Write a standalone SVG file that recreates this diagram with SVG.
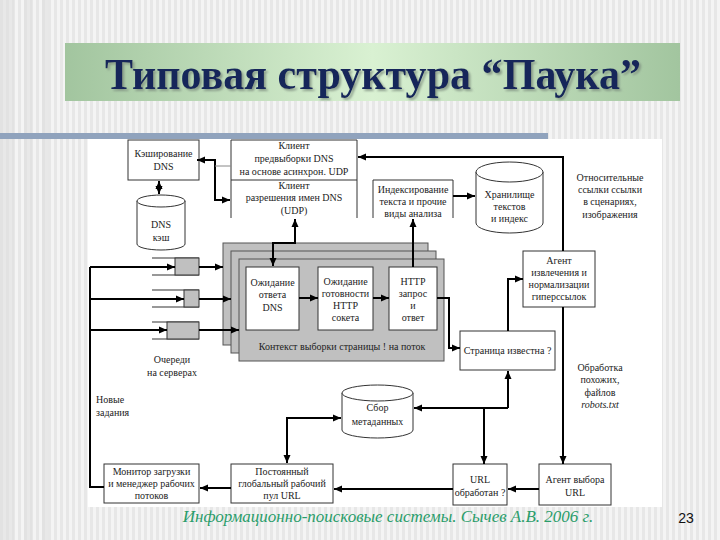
<svg xmlns="http://www.w3.org/2000/svg" width="720" height="540" viewBox="0 0 720 540">
<defs>
<pattern id="stripes" x="0" y="0" width="6" height="10" patternUnits="userSpaceOnUse">
<rect width="6" height="10" fill="#f4f4f4"/>
<rect width="3" height="10" fill="#e7e7e7"/>
</pattern>
<linearGradient id="banner" x1="0" y1="0" x2="1" y2="0">
<stop offset="0" stop-color="#a2c59f"/>
<stop offset="0.5" stop-color="#d9f1d2"/>
<stop offset="1" stop-color="#a2c59f"/>
</linearGradient>
<filter id="shadow" x="-5%" y="-20%" width="110%" height="140%">
<feDropShadow dx="2" dy="2" stdDeviation="0.8" flood-color="#7f8f80" flood-opacity="0.8"/>
</filter>
<marker id="ah" markerUnits="userSpaceOnUse" markerWidth="8" markerHeight="8" refX="8" refY="4" orient="auto-start-reverse">
<path d="M0,0.5 L8,4 L0,7.5 z" fill="#000"/>
</marker>
<style>
.t{font-family:'Liberation Serif','Times New Roman','DejaVu Serif',serif;font-size:10px;fill:#222;text-anchor:middle}
.box{fill:#fff;stroke:#333;stroke-width:1}
.ctx{fill:#c0c0c0;stroke:#555;stroke-width:1}
.q{fill:#c0c0c0;stroke:#333;stroke-width:1}
.ql{fill:none;stroke:#333;stroke-width:1.2}
.c{fill:none;stroke:#000;stroke-width:2}
.ca{fill:none;stroke:#000;stroke-width:2;marker-end:url(#ah)}
.cb{fill:none;stroke:#000;stroke-width:2;marker-end:url(#ah);marker-start:url(#ah)}
.serif{font-family:'Liberation Serif','Times New Roman','DejaVu Serif',serif}
</style>
</defs>
<rect width="720" height="540" fill="url(#stripes)"/>
<rect x="0" y="0" width="14" height="540" fill="#e0e0e0" opacity="0.6"/>
<rect x="24" y="0" width="8" height="540" fill="#e0e0e0" opacity="0.6"/>
<rect x="42" y="0" width="6" height="540" fill="#e0e0e0" opacity="0.6"/>

<g id="title">
<rect x="65" y="43" width="615" height="58" fill="url(#banner)"/>
<text class="serif" x="373" y="89" font-size="44" font-weight="bold" fill="#13285a" text-anchor="middle" textLength="536" lengthAdjust="spacingAndGlyphs" filter="url(#shadow)">Типовая структура “Паука”</text>
</g>
<rect x="0" y="133" width="548" height="6" fill="#90a3bd"/>
<rect x="88" y="139" width="574" height="368" fill="#fff"/>

<g id="dns-cache">
<rect class="box" x="128" y="140" width="71" height="40"/>
<text class="t" x="163.5" y="157">Кэширование</text>
<text class="t" x="163.5" y="170">DNS</text>
</g>
<g id="dns-db">
<path class="box" d="M137,201 V244 A24,6 0 0 0 185,244 V201"/>
<ellipse class="box" cx="161" cy="201" rx="24" ry="6"/>
<text class="t" x="161" y="228">DNS</text>
<text class="t" x="161" y="241">кэш</text>
</g>
<g id="dns-client">
<path d="M231,218 V140 H357 V218 M231,180 H357" fill="#fff" stroke="#333" stroke-width="1"/>
<text class="t" x="294" y="149">Клиент</text>
<text class="t" x="294" y="162">предвыборки DNS</text>
<text class="t" x="294" y="175">на основе асинхрон. UDP</text>
<text class="t" x="294" y="189">Клиент</text>
<text class="t" x="294" y="201">разрешения имен DNS</text>
<text class="t" x="294" y="214">(UDP)</text>
</g>
<g id="indexing">
<path d="M373,218 V180 H453 V218" fill="#fff" stroke="#333" stroke-width="1"/>
<text class="t" x="413" y="193">Индексирование</text>
<text class="t" x="413" y="205">текста и прочие</text>
<text class="t" x="413" y="217">виды анализа</text>
</g>
<g id="storage">
<path class="box" d="M476,172 V223 A33.5,10 0 0 0 543,223 V172"/>
<ellipse class="box" cx="509.5" cy="172" rx="33.5" ry="10"/>
<text class="t" x="509.5" y="198">Хранилище</text>
<text class="t" x="509.5" y="210">текстов</text>
<text class="t" x="509.5" y="222">и индекс</text>
</g>
<g id="note-links">
<text class="t" x="610" y="181">Относительные</text>
<text class="t" x="610" y="193">ссылки ссылки</text>
<text class="t" x="610" y="205">в сценариях,</text>
<text class="t" x="610" y="218">изображения</text>
</g>
<g id="queues">
<path class="ql" d="M152,258 H199 M152,275 H199"/>
<rect class="q" x="175" y="258" width="24" height="17"/>
<path class="ql" d="M152,290 H199 M152,307 H199"/>
<rect class="q" x="184" y="290" width="15" height="17"/>
<path class="ql" d="M152,322 H199 M152,339 H199"/>
<rect class="q" x="167" y="322" width="32" height="17"/>
<text class="t" x="172" y="363">Очереди</text>
<text class="t" x="172" y="376">на серверах</text>
</g>
<g id="new-tasks">
<text class="t" x="96" y="403" style="text-anchor:start">Новые</text>
<text class="t" x="96" y="416" style="text-anchor:start">задания</text>
</g>
<g id="fetch-context">
<rect class="ctx" x="223" y="243" width="205" height="102"/>
<rect class="ctx" x="231" y="251" width="205" height="102"/>
<rect class="ctx" x="239" y="259" width="205" height="102"/>
<text class="t" x="342" y="350">Контекст выборки страницы ! на поток</text>
</g>
<g id="wait-dns">
<rect class="box" x="246" y="267" width="53" height="63"/>
<text class="t" x="272.5" y="286">Ожидание</text>
<text class="t" x="272.5" y="298">ответа</text>
<text class="t" x="272.5" y="311">DNS</text>
</g>
<g id="wait-http">
<rect class="box" x="318" y="267" width="55" height="63"/>
<text class="t" x="345.5" y="285">Ожидание</text>
<text class="t" x="345.5" y="297">готовности</text>
<text class="t" x="345.5" y="309">HTTP</text>
<text class="t" x="345.5" y="321">сокета</text>
</g>
<g id="http">
<rect class="box" x="389" y="267" width="48" height="63"/>
<text class="t" x="413" y="285">HTTP</text>
<text class="t" x="413" y="297">запрос</text>
<text class="t" x="413" y="309">и</text>
<text class="t" x="413" y="321">ответ</text>
</g>
<g id="page-known">
<rect class="box" x="460" y="331" width="95" height="39"/>
<text class="t" x="507.5" y="354">Страница известна ?</text>
</g>
<g id="link-agent">
<rect class="box" x="523" y="251" width="72" height="56"/>
<text class="t" x="559" y="264">Агент</text>
<text class="t" x="559" y="276">извлечения и</text>
<text class="t" x="559" y="288">нормализации</text>
<text class="t" x="559" y="300">гиперссылок</text>
</g>
<g id="note-robots">
<text class="t" x="600" y="371">Обработка</text>
<text class="t" x="600" y="383">похожих,</text>
<text class="t" x="600" y="396">файлов</text>
<text class="t" x="600" y="408" font-style="italic">robots.txt</text>
</g>
<g id="metadata">
<path class="box" d="M342,393 V430 A35.5,8 0 0 0 413,430 V393"/>
<ellipse class="box" cx="377.5" cy="393" rx="35.5" ry="8"/>
<text class="t" x="377.5" y="411">Сбор</text>
<text class="t" x="377.5" y="425">метаданных</text>
</g>
<g id="monitor">
<rect class="box" x="104" y="464" width="95" height="39"/>
<text class="t" x="151.5" y="475">Монитор загрузки</text>
<text class="t" x="151.5" y="487">и менеджер рабочих</text>
<text class="t" x="151.5" y="499">потоков</text>
</g>
<g id="url-pool">
<rect class="box" x="231" y="464" width="102" height="39"/>
<text class="t" x="282" y="475">Постоянный</text>
<text class="t" x="282" y="487">глобальный рабочий</text>
<text class="t" x="282" y="499">пул URL</text>
</g>
<g id="url-done">
<rect class="box" x="453" y="464" width="54" height="41"/>
<text class="t" x="480" y="483">URL</text>
<text class="t" x="480" y="496">обработан ?</text>
</g>
<g id="url-agent">
<rect class="box" x="539" y="464" width="72" height="41"/>
<text class="t" x="575" y="483">Агент выбора</text>
<text class="t" x="575" y="496">URL</text>
</g>

<g id="connectors">
<path class="cb" d="M197,160 H215 V200 H230"/>
<path d="M215,166 H231" stroke="#888" stroke-width="1" fill="none"/>
<path class="cb" d="M159,181 V194"/>
<path class="ca" d="M563,251 V157 H358"/>
<path class="ca" d="M453,196 H475"/>
<path class="cb" d="M273,266 V243 H295 V219"/>
<path class="ca" d="M413,267 V219"/>
<path class="c" d="M104,487 H90 V267"/>
<path class="ca" d="M90,267 H175"/>
<path class="ca" d="M90,299 H184"/>
<path class="ca" d="M90,330 H167"/>
<path class="ca" d="M199,267 H223"/>
<path class="ca" d="M199,299 H231"/>
<path class="ca" d="M199,330 H239"/>
<path class="ca" d="M299,298 H318"/>
<path class="ca" d="M373,298 H389"/>
<path class="ca" d="M437,298 H449 V348 H460"/>
<path class="ca" d="M508,331 V279 H523"/>
<path class="ca" d="M563,307 V464"/>
<path class="ca" d="M508,408 V371"/>
<path class="ca" d="M508,408 H414"/>
<path class="ca" d="M484,408 V464"/>
<path class="ca" d="M539,489 H508"/>
<path class="ca" d="M453,489 H334"/>
<path class="ca" d="M231,488 H200"/>
<path class="cb" d="M287,463 V418 H341"/>
</g>

<g id="footer">
<text class="serif" x="388" y="522" font-size="17" font-style="italic" fill="#2a9d6a" text-anchor="middle">Информационно-поисковые системы. Сычев А.В. 2006 г.</text>
<text x="686" y="523" font-family="'Liberation Sans',Arial,sans-serif" font-size="14" fill="#111" text-anchor="middle">23</text>
</g>
</svg>
